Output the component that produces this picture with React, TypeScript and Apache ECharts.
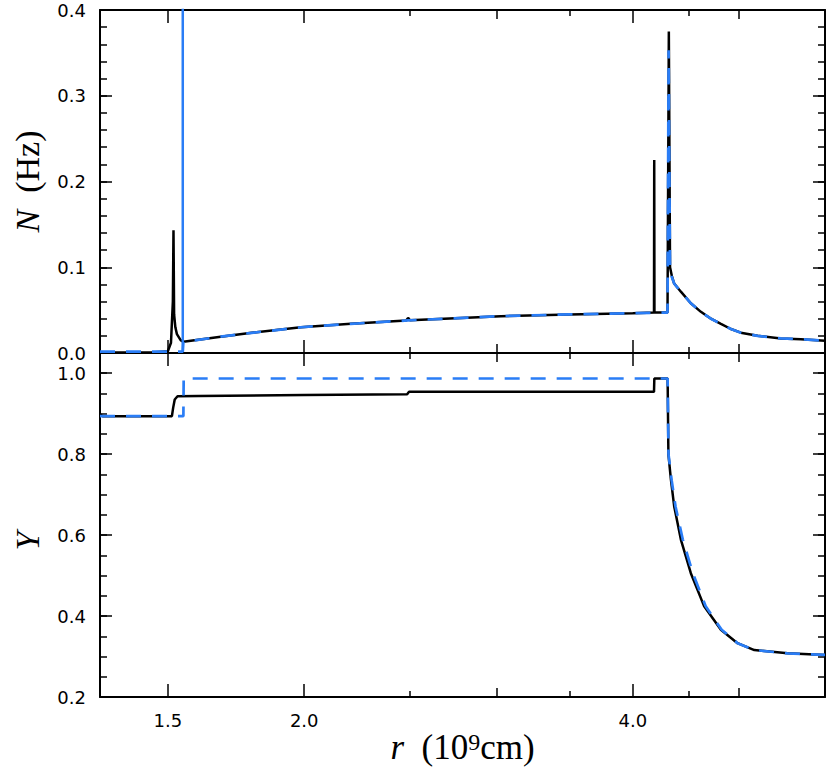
import React, { useEffect, useRef } from "react";
import * as echarts from "echarts";

// ---- axis ranges & ticks (r in 10^9 cm, log scale) ----
const rMin = 1.3;
const rMax = 6.0;
const xTicksMajor = [1.5, 2.0, 4.0];
const xTicksMid = [3.0, 5.0];
const xTicksMinor = [2.5, 3.5, 4.5];

const nMin = 0;
const nMax = 0.4;
const nTicksMajor = [0.0, 0.1, 0.2, 0.3, 0.4];
const nMinorStep = 0.02;

const yMin = 0.2;
const yMax = 1.05;
const yTicksMajor = [0.2, 0.4, 0.6, 0.8, 1.0];
const yMinorStep = 0.05;

// ---- top panel: N (Hz) ----
const nBlack: [number, number][] = [
  [1.3, 0.0005], [1.45, 0.0005], [1.5, 0.002], [1.51, 0.012], [1.516, 0.06],
  [1.518, 0.143], [1.52, 0.045], [1.524, 0.03], [1.529, 0.022], [1.541, 0.015],
  [1.55, 0.013], [1.677, 0.019], [1.79, 0.0235], [1.986, 0.03], [2.207, 0.034],
  [2.48, 0.0378], [2.49, 0.041], [2.5, 0.0382], [3.028, 0.043], [3.5, 0.045],
  [4.0, 0.0465], [4.183, 0.0472], [4.185, 0.225], [4.187, 0.0472], [4.304, 0.0472],
  [4.316, 0.375], [4.327, 0.1], [4.345, 0.089], [4.365, 0.081], [4.427, 0.0715],
  [4.521, 0.058], [4.618, 0.048], [4.717, 0.04], [4.817, 0.034], [4.92, 0.028],
  [5.024, 0.0237], [5.205, 0.02], [5.467, 0.017], [5.702, 0.016], [6.0, 0.0144],
];

const nBlue: [number, number][] = [
  [1.3, 0.0015], [1.548, 0.0015], [1.55, 0.013], [1.677, 0.019], [1.79, 0.0235],
  [1.986, 0.03], [2.207, 0.034], [2.49, 0.038], [3.028, 0.043], [3.5, 0.045],
  [4.0, 0.0465], [4.304, 0.0472], [4.314, 0.353], [4.327, 0.095], [4.345, 0.088],
  [4.365, 0.081], [4.427, 0.0715], [4.521, 0.058], [4.618, 0.048], [4.717, 0.04],
  [4.817, 0.034], [4.92, 0.028], [5.024, 0.0237], [5.205, 0.02], [5.467, 0.017],
  [5.702, 0.016], [6.0, 0.0144],
];

// blue spike at the inner boundary (goes far off scale)
const nBlueSpike: [number, number][] = [
  [1.548, 0.0015], [1.548, 0.9],
];

// ---- bottom panel: Y ----
const yBlack: [number, number][] = [
  [1.3, 0.899], [1.307, 0.894], [1.513, 0.894], [1.517, 0.915], [1.522, 0.935],
  [1.531, 0.943], [1.6, 0.944], [2.0, 0.946], [2.485, 0.948], [2.495, 0.954],
  [4.183, 0.954], [4.186, 0.987], [4.305, 0.987], [4.312, 0.8], [4.335, 0.737],
  [4.365, 0.671], [4.427, 0.589], [4.521, 0.506], [4.65, 0.424], [4.817, 0.366],
  [4.989, 0.333], [5.169, 0.316], [5.545, 0.308], [6.0, 0.304],
];

const yBlue: [number, number][] = [
  [1.3, 0.894], [1.55, 0.894], [1.551, 0.987], [4.305, 0.987], [4.313, 0.8],
  [4.342, 0.735], [4.378, 0.67], [4.445, 0.589], [4.54, 0.506], [4.665, 0.424],
  [4.825, 0.366], [4.99, 0.333], [5.169, 0.316], [5.545, 0.308], [6.0, 0.304],
];

const BLACK = "#000000";
const BLUE = "#2a7df6";
const LABEL_FONT = "DejaVu Sans";
const NAME_FONT = "Liberation Serif";

const lg = (v: number) => Math.log10(v);
const toXY = (arr: [number, number][]) => arr.map(([r, v]) => [lg(r), v]);

function makeXAxes(gridIndex: number, withLabels: boolean) {
  const tiers: [number[], number][] = [
    [xTicksMajor, 13],
    [xTicksMid, 9],
    [xTicksMinor, 6],
  ];
  const out: any[] = [];
  ["bottom", "top"].forEach((pos) => {
    tiers.forEach(([vals, len], i) => {
      const showLabel = withLabels && pos === "bottom" && i === 0;
      const ax: any = {
        type: "value",
        gridIndex,
        position: pos,
        min: lg(rMin),
        max: lg(rMax),
        axisLine: { show: i === 0, onZero: false, lineStyle: { color: BLACK, width: 2 } },
        axisTick: {
          show: true,
          inside: true,
          length: len,
          customValues: vals.map(lg),
          lineStyle: { color: BLACK, width: 1.5 },
        },
        axisLabel: {
          show: showLabel,
          customValues: vals.map(lg),
          formatter: (v: number) => Math.pow(10, v).toFixed(1),
          color: BLACK,
          fontFamily: LABEL_FONT,
          fontSize: 18,
          margin: 14,
        },
        splitLine: { show: false },
      };
      if (showLabel) {
        ax.name = "{i|r}  (10{s|9}cm)";
        ax.nameLocation = "middle";
        ax.nameGap = 29;
        ax.nameTextStyle = {
          fontFamily: NAME_FONT,
          fontSize: 35,
          color: BLACK,
          rich: {
            i: { fontFamily: NAME_FONT, fontSize: 35, fontStyle: "italic", color: BLACK },
            s: { fontFamily: NAME_FONT, fontSize: 24, color: BLACK, verticalAlign: "top", lineHeight: 22 },
          },
        };
      }
      out.push(ax);
    });
  });
  return out;
}

function makeYAxes(
  gridIndex: number,
  min: number,
  max: number,
  majors: number[],
  minorStep: number,
  name: string,
  namePadding: number[]
) {
  const out: any[] = [];
  ["left", "right"].forEach((pos) => {
    const isLeft = pos === "left";
    const major: any = {
      type: "value",
      gridIndex,
      position: pos,
      min,
      max,
      axisLine: { show: true, onZero: false, lineStyle: { color: BLACK, width: 2 } },
      axisTick: {
        show: true,
        inside: true,
        length: 12,
        customValues: majors,
        lineStyle: { color: BLACK, width: 1.5 },
      },
      axisLabel: {
        show: isLeft,
        customValues: majors,
        formatter: (v: number) => v.toFixed(1),
        color: BLACK,
        fontFamily: LABEL_FONT,
        fontSize: 18,
        margin: 14,
      },
      splitLine: { show: false },
    };
    if (isLeft) {
      major.name = name;
      major.nameLocation = "middle";
      major.nameGap = 56;
      major.nameTextStyle = {
        fontFamily: NAME_FONT,
        fontSize: 34,
        color: BLACK,
        padding: namePadding,
        rich: {
          i: { fontFamily: NAME_FONT, fontSize: 34, fontStyle: "italic", color: BLACK },
        },
      };
    }
    const minor: any = {
      type: "value",
      gridIndex,
      position: pos,
      min,
      max,
      interval: minorStep,
      axisLine: { show: false, onZero: false },
      axisTick: { show: true, inside: true, length: 7, lineStyle: { color: BLACK, width: 1.5 } },
      axisLabel: { show: false },
      splitLine: { show: false },
    };
    out.push(major, minor);
  });
  return out;
}

export default function App() {
  const ref = useRef<HTMLDivElement>(null);

  useEffect(() => {
    if (!ref.current) return;
    const chart = echarts.init(ref.current, undefined, { renderer: "svg" });

    const xAxis = [...makeXAxes(0, false), ...makeXAxes(1, true)];
    const yAxis = [
      ...makeYAxes(0, nMin, nMax, nTicksMajor, nMinorStep, "{i|N}  (Hz)", [0, 0, 0, 0]),
      ...makeYAxes(1, yMin, yMax, yTicksMajor, yMinorStep, "{i|Y}", [0, 32, 0, 0]),
    ];

    const lineBase = {
      type: "line",
      showSymbol: false,
      symbol: "none",
      silent: true,
      clip: true,
    };

    chart.setOption({
      animation: false,
      backgroundColor: "#ffffff",
      grid: [
        { left: 100, top: 10, width: 725, height: 343 },
        { left: 100, top: 353, width: 725, height: 344 },
      ],
      xAxis,
      yAxis,
      series: [
        {
          ...lineBase,
          name: "N model A",
          xAxisIndex: 0,
          yAxisIndex: 0,
          data: toXY(nBlack),
          lineStyle: { color: BLACK, width: 2.5 },
          z: 2,
        },
        {
          ...lineBase,
          name: "N model B",
          xAxisIndex: 0,
          yAxisIndex: 0,
          data: toXY(nBlue),
          lineStyle: { color: BLUE, width: 2.7, type: [15, 11] },
          z: 3,
        },
        {
          ...lineBase,
          name: "N model B spike",
          xAxisIndex: 0,
          yAxisIndex: 0,
          data: toXY(nBlueSpike),
          lineStyle: { color: BLUE, width: 2.5 },
          z: 3,
        },
        {
          ...lineBase,
          name: "Y model A",
          xAxisIndex: 6,
          yAxisIndex: 4,
          data: toXY(yBlack),
          lineStyle: { color: BLACK, width: 2.5 },
          z: 2,
        },
        {
          ...lineBase,
          name: "Y model B",
          xAxisIndex: 6,
          yAxisIndex: 4,
          data: toXY(yBlue),
          lineStyle: { color: BLUE, width: 2.7, type: [15, 11] },
          z: 3,
        },
      ],
    });

    return () => chart.dispose();
  }, []);

  return (
    <div
      ref={ref}
      style={{ position: "fixed", left: 0, top: 0, width: 831, height: 774, background: "#fff" }}
    />
  );
}
